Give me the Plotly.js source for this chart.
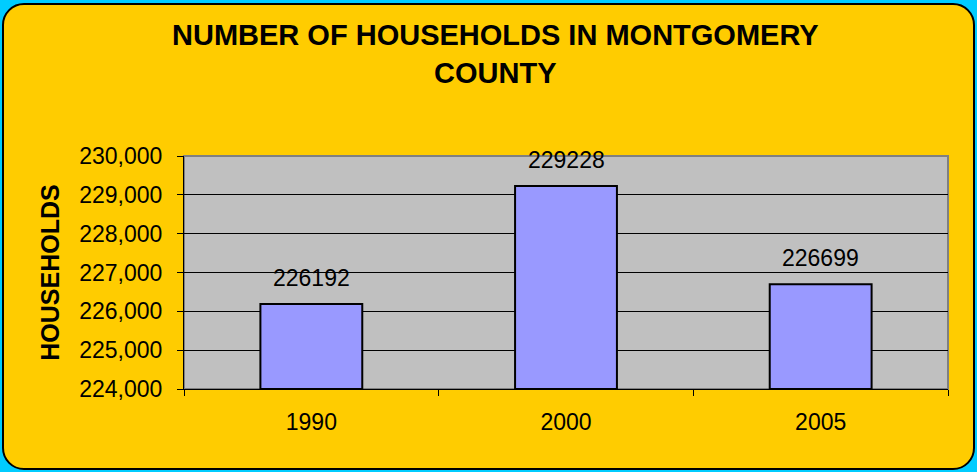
<!DOCTYPE html>
<html>
<head>
<meta charset="utf-8">
<script src="https://cdn.plot.ly/plotly-3.0.1.min.js"></script>
<style>
html,body{margin:0;padding:0;background:#00CCFF;width:977px;height:472px;overflow:hidden;}
#frame{position:absolute;left:2px;top:3px;width:969px;height:463px;background:#FFCC00;border:2px solid #000;border-radius:22px;}
#chart{position:absolute;left:0;top:0;width:977px;height:472px;}
</style>
</head>
<body>
<div id="frame"></div>
<div id="chart"></div>
<script>
const years = ["1990", "2000", "2005"];
const households = [226192, 229228, 226699];
const yTicks = [224000, 225000, 226000, 227000, 228000, 229000, 230000];
const yBase = 224000;

const FONT = 'Liberation Sans, Arial, sans-serif';

const trace = {
  type: 'bar',
  x: years,
  y: households.map(v => v - yBase),
  base: yBase,
  width: 0.4,
  marker: {color: '#9999FF', line: {color: '#000000', width: 2}},
  hoverinfo: 'none'
};

// value labels above bars (x given as category index of each year)
const labels = years.map((yr, i) => ({
  x: i, y: households[i], xref: 'x', yref: 'y',
  text: String(households[i]), showarrow: false,
  yanchor: 'bottom', yshift: 11,
  font: {family: FONT, size: 23, color: '#000'}
}));

const layout = {
  width: 977, height: 472,
  margin: {l: 184, r: 29, t: 156, b: 83},
  paper_bgcolor: 'rgba(0,0,0,0)',
  plot_bgcolor: '#C0C0C0',
  font: {family: FONT, size: 23, color: '#000'},
  showlegend: false,
  title: {
    text: 'NUMBER OF HOUSEHOLDS IN MONTGOMERY<br>COUNTY',
    font: {family: FONT, size: 29, color: '#000', weight: 'bold'},
    x: 0.507, xanchor: 'center', y: 0.905, yanchor: 'top'
  },
  xaxis: {
    type: 'category',
    categoryorder: 'array', categoryarray: years,
    range: [-0.5, years.length - 0.5],
    showgrid: false,
    showline: true, linecolor: '#000', linewidth: 1,
    ticks: 'outside', tickson: 'boundaries', ticklen: 6, tickcolor: '#000',
    ticklabelstandoff: 12,
    tickfont: {size: 23}
  },
  yaxis: {
    range: [224000, 230000],
    tickvals: yTicks,
    tickformat: ',d',
    showgrid: true, gridcolor: '#000', gridwidth: 1,
    zeroline: false,
    showline: true, linecolor: '#000', linewidth: 1,
    ticks: 'outside', ticklen: 6, tickcolor: '#000',
    ticklabelstandoff: 10,
    tickfont: {size: 23},
    title: {text: 'HOUSEHOLDS', font: {size: 25, weight: 'bold'}, standoff: 12}
  },
  annotations: labels,
  shapes: [{
    type: 'rect', xref: 'paper', yref: 'paper', x0: 0, x1: 1, y0: 0, y1: 1,
    line: {color: '#808080', width: 2}, layer: 'below'
  }]
};

Plotly.newPlot('chart', [trace], layout, {displayModeBar: false, staticPlot: true});
</script>
</body>
</html>
